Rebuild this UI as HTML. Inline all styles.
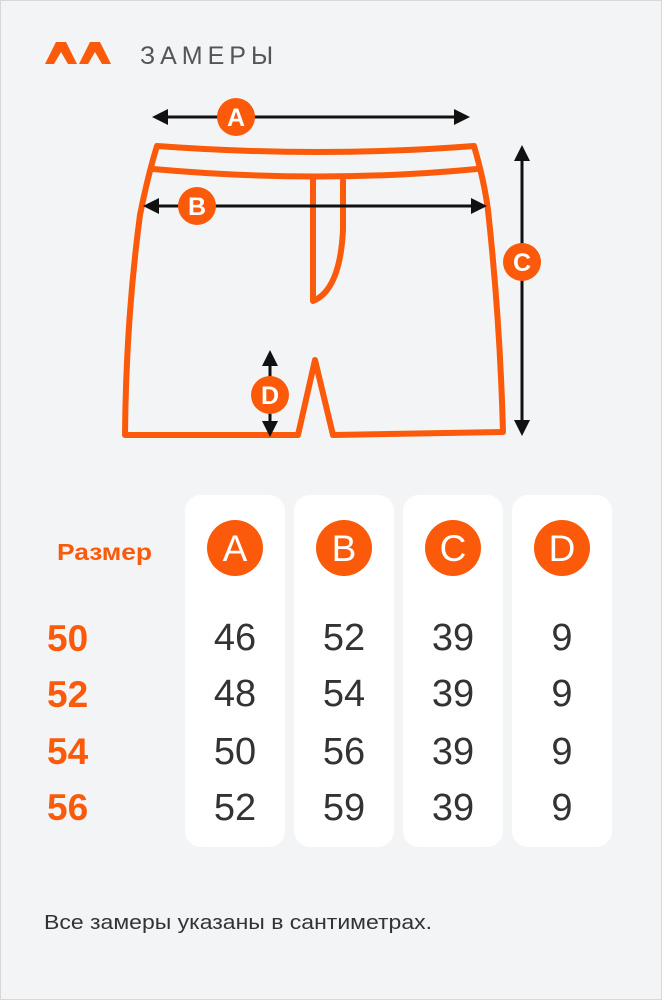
<!DOCTYPE html>
<html><head><meta charset="utf-8"><style>
html,body{margin:0;padding:0;background:#f3f4f6;}
body{width:662px;height:1000px;overflow:hidden;position:relative;font-family:"Liberation Sans","DejaVu Sans",sans-serif;}
svg{position:absolute;left:0;top:0;}
</style></head><body>
<svg width="662" height="1000" viewBox="0 0 662 1000" xmlns="http://www.w3.org/2000/svg">
<rect x="0.5" y="0.5" width="661" height="999" fill="#f3f4f6" stroke="#d8d8d8"/>
<!-- logo -->
<path d="M45 64 L56 42 L66 42 L77 64 L68 64 L61 52 L54 64 Z" fill="#fa5a0a"/>
<path d="M79 64 L90 42 L100 42 L111 64 L102 64 L95 52 L88 64 Z" fill="#fa5a0a"/>
<text x="140" y="64" font-size="25" fill="#555" letter-spacing="5">ЗАМЕРЫ</text>
<!-- shorts -->
<g fill="none" stroke="#fa5a0a" stroke-width="6" stroke-linejoin="round" stroke-linecap="round">
<path d="M157 146 Q320 158 474 146 Q484 180 488 210 Q500 320 503 432 L333 435 L315 360 L298 435 L125 435 Q126 320 140 215 Q148 175 157 146 Z"/>
<path d="M153 169 Q320 184 477 169"/>
<path d="M313 180 L313 301 Q340 290 343 230 L343 181"/>
</g>
<!-- arrows -->
<g stroke="#111" stroke-width="3">
<line x1="162" y1="117" x2="460" y2="117"/>
<line x1="152" y1="206" x2="477" y2="206"/>
<line x1="522" y1="155" x2="522" y2="426"/>
<line x1="270" y1="360" x2="270" y2="427"/>
</g>
<g fill="#111">
<path d="M152 117 L168 109 L168 125 Z"/>
<path d="M470 117 L454 109 L454 125 Z"/>
<path d="M143 206 L159 198 L159 214 Z"/>
<path d="M487 206 L471 198 L471 214 Z"/>
<path d="M522 145 L514 161 L530 161 Z"/>
<path d="M522 436 L514 420 L530 420 Z"/>
<path d="M270 350 L262 366 L278 366 Z"/>
<path d="M270 437 L262 421 L278 421 Z"/>
</g>
<g fill="#fa5a0a">
<circle cx="236" cy="117" r="19"/>
<circle cx="197" cy="206" r="19"/>
<circle cx="522" cy="262" r="19"/>
<circle cx="270" cy="395" r="19"/>
</g>
<g fill="#fff" font-size="25" font-weight="bold" text-anchor="middle">
<text x="236" y="126">A</text>
<text x="197" y="215">B</text>
<text x="522" y="271">C</text>
<text x="270" y="404">D</text>
</g>
<!-- table -->
<g fill="#fff">
<rect x="185" y="495" width="100" height="352" rx="16"/>
<rect x="294" y="495" width="100" height="352" rx="16"/>
<rect x="403" y="495" width="100" height="352" rx="16"/>
<rect x="512" y="495" width="100" height="352" rx="16"/>
</g>
<g fill="#fa5a0a">
<circle cx="235" cy="548" r="28"/>
<circle cx="344" cy="548" r="28"/>
<circle cx="453" cy="548" r="28"/>
<circle cx="562" cy="548" r="28"/>
</g>
<g fill="#fff" font-size="37" text-anchor="middle">
<text x="235" y="561">A</text>
<text x="344" y="561">B</text>
<text x="453" y="561">C</text>
<text x="562" y="561">D</text>
</g>
<text x="57" y="560" font-size="23" font-weight="bold" fill="#fa5a0a" textLength="95" lengthAdjust="spacingAndGlyphs">Размер</text>
<g fill="#fa5a0a" font-size="37" font-weight="bold">
<text x="47" y="651">50</text>
<text x="47" y="707">52</text>
<text x="47" y="764">54</text>
<text x="47" y="820">56</text>
</g>
<g fill="#333" font-size="38" text-anchor="middle">
<text x="235" y="650">46</text><text x="344" y="650">52</text><text x="453" y="650">39</text><text x="562" y="650">9</text>
<text x="235" y="706">48</text><text x="344" y="706">54</text><text x="453" y="706">39</text><text x="562" y="706">9</text>
<text x="235" y="764">50</text><text x="344" y="764">56</text><text x="453" y="764">39</text><text x="562" y="764">9</text>
<text x="235" y="820">52</text><text x="344" y="820">59</text><text x="453" y="820">39</text><text x="562" y="820">9</text>
</g>
<text x="44" y="929" font-size="20" fill="#333" textLength="388" lengthAdjust="spacingAndGlyphs">Все замеры указаны в сантиметрах.</text>
</svg>
</body></html>
